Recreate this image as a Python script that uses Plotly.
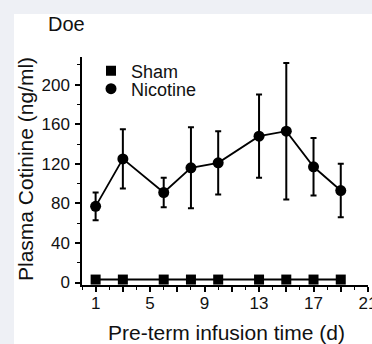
import plotly.graph_objects as go

# Data
days_nic = [1, 3, 6, 8, 10, 13, 15, 17, 19]
nicotine = [77, 125, 91, 116, 121, 148, 153, 117, 93]
nicotine_err = [14, 30, 15, 41, 32, 42, 69, 29, 27]
days_sham = [1, 3, 6, 8, 10, 13, 15, 17, 19]
sham = [3, 3, 3, 3, 3, 3, 3, 3, 3]

FONT = "Liberation Sans, Arial, sans-serif"
BLACK = "#000000"

W, H = 372, 344
ML, MR, MT, MB = 82, 4, 57, 59
PW = W - ML - MR
PH = H - MT - MB


def px_x(p):
    return (p - ML) / PW


def px_y(p):
    return (H - MB - p) / PH


fig = go.Figure()

fig.add_trace(go.Scatter(
    x=days_sham, y=sham, mode="lines+markers", showlegend=False,
    line=dict(color=BLACK, width=2),
    marker=dict(symbol="square", size=10, color=BLACK),
))
fig.add_trace(go.Scatter(
    x=days_nic, y=nicotine, mode="lines+markers", showlegend=False,
    line=dict(color=BLACK, width=1.8),
    marker=dict(symbol="circle", size=11, color=BLACK),
    error_y=dict(type="data", array=nicotine_err, visible=True,
                 color=BLACK, thickness=2, width=3),
))
# legend entries (marker only)
fig.add_trace(go.Scatter(
    x=[None], y=[None], mode="markers", name="Sham", legend="legend",
    marker=dict(symbol="square", size=10, color=BLACK),
))
fig.add_trace(go.Scatter(
    x=[None], y=[None], mode="markers", name="Nicotine", legend="legend2",
    marker=dict(symbol="circle", size=11, color=BLACK),
))

axis_common = dict(
    showgrid=False, zeroline=False, showline=True, linecolor=BLACK,
    linewidth=1.5, ticks="outside", ticklen=5, tickwidth=1.5,
    tickcolor=BLACK, tickfont=dict(family=FONT, size=17, color="#111"),
    ticklabeloverflow="allow", automargin=False,
)

fig.update_xaxes(
    range=[0, 21], tickmode="linear", tick0=1, dtick=2, ticklabelstep=2,
    ticklabelstandoff=-3,
    minor=dict(ticks="outside", ticklen=3, tickwidth=1.2, tickcolor=BLACK,
               tick0=0, dtick=1),
    **axis_common,
)
fig.update_yaxes(
    range=[-2.5, 228], tickmode="linear", tick0=0, dtick=40,
    ticklabelstandoff=2,
    minor=dict(ticks="outside", ticklen=3, tickwidth=1.2, tickcolor=BLACK,
               tick0=0, dtick=20),
    **axis_common,
)

leg_common = dict(
    xanchor="left", yanchor="middle", bgcolor="rgba(0,0,0,0)",
    borderwidth=0, font=dict(family=FONT, size=18, color="#111"),
    itemwidth=30,
)

fig.update_layout(
    width=W, height=H,
    margin=dict(l=ML, r=MR, t=MT, b=MB, pad=0, autoexpand=False),
    paper_bgcolor="rgb(238,240,245)",
    plot_bgcolor="white",
    legend=dict(x=px_x(91), y=px_y(71), **leg_common),
    legend2=dict(x=px_x(91), y=px_y(89), **leg_common),
    shapes=[dict(type="rect", xref="paper", yref="paper", layer="below",
                 x0=px_x(14), x1=px_x(W + 20), y0=px_y(H + 20), y1=px_y(14),
                 fillcolor="white", line=dict(width=0))],
    annotations=[
        dict(text="Doe", xref="paper", yref="paper", x=px_x(46), y=px_y(24),
             xanchor="left", yanchor="middle", showarrow=False,
             font=dict(family=FONT, size=20, color="#111")),
        dict(text="Plasma Cotinine (ng/ml)", xref="paper", yref="paper",
             x=px_x(25), y=px_y(169), xanchor="center", yanchor="middle",
             textangle=-90, showarrow=False,
             font=dict(family=FONT, size=21, color="#111")),
        dict(text="Pre-term infusion time (d)", xref="paper", yref="paper",
             x=px_x(226.5), y=px_y(332), xanchor="center", yanchor="middle",
             showarrow=False, font=dict(family=FONT, size=21, color="#111")),
    ],
)

fig.write_html("out.html")
